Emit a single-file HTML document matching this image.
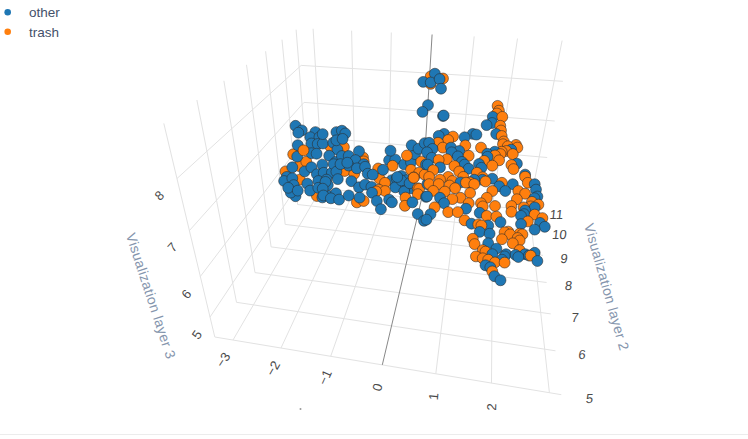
<!DOCTYPE html>
<html><head><meta charset="utf-8"><style>
html,body{margin:0;padding:0;background:#fff;}
body{width:748px;height:439px;overflow:hidden;position:relative;font-family:"Liberation Sans",sans-serif;}
svg{position:absolute;left:0;top:0;}
svg text{font-family:"Liberation Sans",sans-serif;}
.leg{position:absolute;left:29px;font-size:13.5px;color:#44516a;line-height:16px;}
.bot{position:absolute;left:0;top:434px;width:748px;height:1px;background:#ececec;}
</style></head><body>
<svg width="748" height="439" viewBox="0 0 748 439">
<g fill="none"><line x1="233.0" y1="340.0" x2="322.8" y2="185.5" stroke="#e2e2e2" stroke-width="1"/>
<line x1="281.0" y1="348.0" x2="355.1" y2="188.8" stroke="#e2e2e2" stroke-width="1"/>
<line x1="330.7" y1="356.3" x2="388.3" y2="192.3" stroke="#e2e2e2" stroke-width="1"/>
<line x1="435.8" y1="373.8" x2="457.0" y2="199.5" stroke="#e2e2e2" stroke-width="1"/>
<line x1="491.5" y1="383.1" x2="492.7" y2="203.2" stroke="#e2e2e2" stroke-width="1"/>
<line x1="549.4" y1="392.7" x2="529.3" y2="207.0" stroke="#e2e2e2" stroke-width="1"/>
<line x1="214.8" y1="337.0" x2="561.3" y2="394.7" stroke="#e2e2e2" stroke-width="1"/>
<line x1="236.5" y1="302.3" x2="555.5" y2="350.8" stroke="#e2e2e2" stroke-width="1"/>
<line x1="255.0" y1="272.6" x2="550.7" y2="313.9" stroke="#e2e2e2" stroke-width="1"/>
<line x1="271.1" y1="246.9" x2="546.6" y2="282.5" stroke="#e2e2e2" stroke-width="1"/>
<line x1="285.2" y1="224.4" x2="543.0" y2="255.4" stroke="#e2e2e2" stroke-width="1"/>
<line x1="297.6" y1="204.5" x2="539.9" y2="231.8" stroke="#e2e2e2" stroke-width="1"/>
<line x1="308.6" y1="186.9" x2="537.2" y2="211.0" stroke="#e2e2e2" stroke-width="1"/>
<line x1="214.8" y1="337.0" x2="163.8" y2="123.4" stroke="#e2e2e2" stroke-width="1"/>
<line x1="236.5" y1="302.3" x2="196.9" y2="100.0" stroke="#e2e2e2" stroke-width="1"/>
<line x1="255.0" y1="272.6" x2="223.9" y2="80.8" stroke="#e2e2e2" stroke-width="1"/>
<line x1="271.1" y1="246.9" x2="246.5" y2="64.8" stroke="#e2e2e2" stroke-width="1"/>
<line x1="285.2" y1="224.4" x2="265.6" y2="51.3" stroke="#e2e2e2" stroke-width="1"/>
<line x1="297.6" y1="204.5" x2="282.0" y2="39.7" stroke="#e2e2e2" stroke-width="1"/>
<line x1="308.6" y1="186.9" x2="296.1" y2="29.7" stroke="#e2e2e2" stroke-width="1"/>
<line x1="210.0" y1="317.1" x2="309.1" y2="168.2" stroke="#e2e2e2" stroke-width="1"/>
<line x1="200.3" y1="276.5" x2="306.7" y2="136.6" stroke="#e2e2e2" stroke-width="1"/>
<line x1="189.4" y1="230.6" x2="304.0" y2="102.4" stroke="#e2e2e2" stroke-width="1"/>
<line x1="176.9" y1="178.6" x2="301.2" y2="65.4" stroke="#e2e2e2" stroke-width="1"/>
<line x1="322.8" y1="185.5" x2="313.1" y2="28.8" stroke="#e2e2e2" stroke-width="1"/>
<line x1="355.1" y1="188.8" x2="351.6" y2="30.7" stroke="#e2e2e2" stroke-width="1"/>
<line x1="388.3" y1="192.3" x2="391.3" y2="32.5" stroke="#e2e2e2" stroke-width="1"/>
<line x1="457.0" y1="199.5" x2="474.2" y2="36.4" stroke="#e2e2e2" stroke-width="1"/>
<line x1="492.7" y1="203.2" x2="517.5" y2="38.5" stroke="#e2e2e2" stroke-width="1"/>
<line x1="529.3" y1="207.0" x2="562.1" y2="40.6" stroke="#e2e2e2" stroke-width="1"/>
<line x1="309.1" y1="168.2" x2="540.2" y2="191.0" stroke="#e2e2e2" stroke-width="1"/>
<line x1="306.7" y1="136.6" x2="547.2" y2="157.5" stroke="#e2e2e2" stroke-width="1"/>
<line x1="304.0" y1="102.4" x2="554.7" y2="121.0" stroke="#e2e2e2" stroke-width="1"/>
<line x1="301.2" y1="65.4" x2="562.9" y2="81.3" stroke="#e2e2e2" stroke-width="1"/>
<line x1="382.3" y1="364.9" x2="422.3" y2="195.8" stroke="#888" stroke-width="1"/>
<line x1="422.3" y1="195.8" x2="432.1" y2="34.5" stroke="#888" stroke-width="1"/></g>
<g><text transform="translate(223,359.9) rotate(-57) skewX(0)" font-size="13" fill="#4a4a4a" text-anchor="middle" dominant-baseline="central">−3</text>
<text transform="translate(273,368.3) rotate(-60) skewX(0)" font-size="13" fill="#4a4a4a" text-anchor="middle" dominant-baseline="central">−2</text>
<text transform="translate(325,377.4) rotate(-66) skewX(0)" font-size="13" fill="#4a4a4a" text-anchor="middle" dominant-baseline="central">−1</text>
<text transform="translate(377.5,387.4) rotate(-74) skewX(0)" font-size="13" fill="#4a4a4a" text-anchor="middle" dominant-baseline="central">0</text>
<text transform="translate(433.7,396.4) rotate(-85) skewX(0)" font-size="13" fill="#4a4a4a" text-anchor="middle" dominant-baseline="central">1</text>
<text transform="translate(491.7,407) rotate(-88) skewX(0)" font-size="13" fill="#4a4a4a" text-anchor="middle" dominant-baseline="central">2</text>
<text transform="translate(159.4,195.4) rotate(-43) skewX(0)" font-size="13" fill="#4a4a4a" text-anchor="middle" dominant-baseline="central">8</text>
<text transform="translate(172.3,247.4) rotate(-47) skewX(0)" font-size="13" fill="#4a4a4a" text-anchor="middle" dominant-baseline="central">7</text>
<text transform="translate(186.4,294) rotate(-50) skewX(0)" font-size="13" fill="#4a4a4a" text-anchor="middle" dominant-baseline="central">6</text>
<text transform="translate(197,334.7) rotate(-55) skewX(0)" font-size="13" fill="#4a4a4a" text-anchor="middle" dominant-baseline="central">5</text>
<text transform="translate(556.4,214.1) rotate(0) skewX(-6)" font-size="13" fill="#4a4a4a" text-anchor="middle" dominant-baseline="central">11</text>
<text transform="translate(559.4,234.7) rotate(0) skewX(-6)" font-size="13" fill="#4a4a4a" text-anchor="middle" dominant-baseline="central">10</text>
<text transform="translate(564,258.2) rotate(0) skewX(-6)" font-size="13" fill="#4a4a4a" text-anchor="middle" dominant-baseline="central">9</text>
<text transform="translate(568.5,285.6) rotate(0) skewX(-6)" font-size="13" fill="#4a4a4a" text-anchor="middle" dominant-baseline="central">8</text>
<text transform="translate(575,317.5) rotate(0) skewX(-6)" font-size="13" fill="#4a4a4a" text-anchor="middle" dominant-baseline="central">7</text>
<text transform="translate(582,354.5) rotate(0) skewX(-6)" font-size="13" fill="#4a4a4a" text-anchor="middle" dominant-baseline="central">6</text>
<text transform="translate(589.5,398.8) rotate(0) skewX(-6)" font-size="13" fill="#4a4a4a" text-anchor="middle" dominant-baseline="central">5</text>
<text letter-spacing="0.35" transform="translate(151,296) rotate(71.8) skewX(0)" font-size="14" fill="#8595ad" text-anchor="middle" dominant-baseline="central">Visualization layer 3</text>
<text letter-spacing="0.35" transform="translate(606.8,287) rotate(74.2) skewX(0)" font-size="14" fill="#8595ad" text-anchor="middle" dominant-baseline="central">Visualization layer 2</text></g>
<g stroke="#2b2b2b" stroke-width="0.8" stroke-opacity="0.7"><circle cx="430.7" cy="76.4" r="5.45" fill="#ff7f0e"/>
<circle cx="443.0" cy="78.5" r="5.45" fill="#ff7f0e"/>
<circle cx="430.7" cy="83.9" r="5.45" fill="#ff7f0e"/>
<circle cx="423.2" cy="81.9" r="5.45" fill="#1f77b4"/>
<circle cx="434.9" cy="73.7" r="5.45" fill="#1f77b4"/>
<circle cx="430.7" cy="82.5" r="5.45" fill="#1f77b4"/>
<circle cx="439.6" cy="79.1" r="5.45" fill="#1f77b4"/>
<circle cx="441.0" cy="88.7" r="5.45" fill="#1f77b4"/>
<circle cx="428.0" cy="105.1" r="5.45" fill="#1f77b4"/>
<circle cx="422.5" cy="111.9" r="5.45" fill="#1f77b4"/>
<circle cx="443.0" cy="116.0" r="5.45" fill="#1f77b4"/>
<circle cx="443.7" cy="115.5" r="5.45" fill="#1f77b4"/>
<circle cx="293.2" cy="154.3" r="5.45" fill="#ff7f0e"/>
<circle cx="299.1" cy="166.0" r="5.45" fill="#ff7f0e"/>
<circle cx="285.5" cy="171.4" r="5.45" fill="#ff7f0e"/>
<circle cx="299.8" cy="179.6" r="5.45" fill="#ff7f0e"/>
<circle cx="306.3" cy="161.7" r="5.45" fill="#ff7f0e"/>
<circle cx="330.6" cy="146.8" r="5.45" fill="#ff7f0e"/>
<circle cx="343.9" cy="147.1" r="5.45" fill="#ff7f0e"/>
<circle cx="363.0" cy="157.4" r="5.45" fill="#ff7f0e"/>
<circle cx="344.6" cy="171.0" r="5.45" fill="#ff7f0e"/>
<circle cx="354.2" cy="173.8" r="5.45" fill="#ff7f0e"/>
<circle cx="363.7" cy="161.4" r="5.45" fill="#ff7f0e"/>
<circle cx="356.9" cy="202.4" r="5.45" fill="#ff7f0e"/>
<circle cx="363.7" cy="201.0" r="5.45" fill="#ff7f0e"/>
<circle cx="316.9" cy="196.0" r="5.45" fill="#ff7f0e"/>
<circle cx="295.5" cy="196.2" r="5.45" fill="#1f77b4"/>
<circle cx="290.8" cy="192.6" r="5.45" fill="#1f77b4"/>
<circle cx="295.5" cy="125.8" r="5.45" fill="#1f77b4"/>
<circle cx="301.8" cy="130.4" r="5.45" fill="#1f77b4"/>
<circle cx="298.3" cy="132.7" r="5.45" fill="#1f77b4"/>
<circle cx="315.4" cy="132.1" r="5.45" fill="#1f77b4"/>
<circle cx="310.3" cy="137.2" r="5.45" fill="#1f77b4"/>
<circle cx="319.4" cy="137.2" r="5.45" fill="#1f77b4"/>
<circle cx="311.4" cy="143.5" r="5.45" fill="#1f77b4"/>
<circle cx="317.7" cy="144.0" r="5.45" fill="#1f77b4"/>
<circle cx="322.8" cy="143.5" r="5.45" fill="#1f77b4"/>
<circle cx="297.8" cy="145.2" r="5.45" fill="#1f77b4"/>
<circle cx="311.4" cy="153.2" r="5.45" fill="#1f77b4"/>
<circle cx="316.6" cy="153.7" r="5.45" fill="#1f77b4"/>
<circle cx="297.2" cy="156.6" r="5.45" fill="#1f77b4"/>
<circle cx="333.3" cy="142.7" r="5.45" fill="#1f77b4"/>
<circle cx="337.4" cy="149.6" r="5.45" fill="#1f77b4"/>
<circle cx="329.2" cy="155.7" r="5.45" fill="#1f77b4"/>
<circle cx="336.0" cy="161.9" r="5.45" fill="#1f77b4"/>
<circle cx="292.3" cy="167.3" r="5.45" fill="#1f77b4"/>
<circle cx="286.8" cy="176.9" r="5.45" fill="#1f77b4"/>
<circle cx="284.1" cy="181.0" r="5.45" fill="#1f77b4"/>
<circle cx="292.3" cy="178.3" r="5.45" fill="#1f77b4"/>
<circle cx="304.6" cy="171.4" r="5.45" fill="#1f77b4"/>
<circle cx="311.4" cy="167.3" r="5.45" fill="#1f77b4"/>
<circle cx="322.4" cy="164.6" r="5.45" fill="#1f77b4"/>
<circle cx="316.9" cy="174.2" r="5.45" fill="#1f77b4"/>
<circle cx="323.7" cy="172.8" r="5.45" fill="#1f77b4"/>
<circle cx="331.9" cy="172.8" r="5.45" fill="#1f77b4"/>
<circle cx="293.7" cy="185.1" r="5.45" fill="#1f77b4"/>
<circle cx="288.2" cy="187.8" r="5.45" fill="#1f77b4"/>
<circle cx="297.8" cy="190.6" r="5.45" fill="#1f77b4"/>
<circle cx="307.3" cy="183.7" r="5.45" fill="#1f77b4"/>
<circle cx="310.1" cy="190.6" r="5.45" fill="#1f77b4"/>
<circle cx="318.3" cy="181.0" r="5.45" fill="#1f77b4"/>
<circle cx="318.3" cy="187.8" r="5.45" fill="#1f77b4"/>
<circle cx="326.5" cy="179.6" r="5.45" fill="#1f77b4"/>
<circle cx="327.8" cy="185.1" r="5.45" fill="#1f77b4"/>
<circle cx="322.4" cy="197.4" r="5.45" fill="#1f77b4"/>
<circle cx="329.2" cy="196.0" r="5.45" fill="#1f77b4"/>
<circle cx="336.0" cy="193.3" r="5.45" fill="#1f77b4"/>
<circle cx="322.7" cy="134.1" r="5.45" fill="#1f77b4"/>
<circle cx="336.4" cy="132.1" r="5.45" fill="#1f77b4"/>
<circle cx="341.9" cy="130.7" r="5.45" fill="#1f77b4"/>
<circle cx="345.3" cy="133.5" r="5.45" fill="#1f77b4"/>
<circle cx="336.4" cy="140.3" r="5.45" fill="#1f77b4"/>
<circle cx="342.6" cy="138.9" r="5.45" fill="#1f77b4"/>
<circle cx="341.9" cy="156.0" r="5.45" fill="#1f77b4"/>
<circle cx="348.7" cy="156.0" r="5.45" fill="#1f77b4"/>
<circle cx="359.0" cy="151.2" r="5.45" fill="#1f77b4"/>
<circle cx="355.5" cy="160.1" r="5.45" fill="#1f77b4"/>
<circle cx="363.7" cy="164.2" r="5.45" fill="#1f77b4"/>
<circle cx="333.7" cy="164.2" r="5.45" fill="#1f77b4"/>
<circle cx="348.7" cy="165.6" r="5.45" fill="#1f77b4"/>
<circle cx="356.9" cy="168.3" r="5.45" fill="#1f77b4"/>
<circle cx="336.4" cy="171.7" r="5.45" fill="#1f77b4"/>
<circle cx="340.5" cy="164.1" r="5.45" fill="#1f77b4"/>
<circle cx="347.3" cy="162.7" r="5.45" fill="#1f77b4"/>
<circle cx="365.1" cy="166.8" r="5.45" fill="#1f77b4"/>
<circle cx="367.8" cy="173.7" r="5.45" fill="#1f77b4"/>
<circle cx="337.8" cy="179.1" r="5.45" fill="#1f77b4"/>
<circle cx="325.5" cy="181.9" r="5.45" fill="#1f77b4"/>
<circle cx="351.4" cy="181.2" r="5.45" fill="#1f77b4"/>
<circle cx="322.7" cy="188.7" r="5.45" fill="#1f77b4"/>
<circle cx="323.4" cy="195.5" r="5.45" fill="#1f77b4"/>
<circle cx="330.9" cy="198.3" r="5.45" fill="#1f77b4"/>
<circle cx="339.1" cy="199.6" r="5.45" fill="#1f77b4"/>
<circle cx="348.7" cy="195.5" r="5.45" fill="#1f77b4"/>
<circle cx="359.0" cy="187.3" r="5.45" fill="#1f77b4"/>
<circle cx="365.1" cy="184.6" r="5.45" fill="#1f77b4"/>
<circle cx="359.6" cy="197.6" r="5.45" fill="#1f77b4"/>
<circle cx="303.5" cy="150.3" r="5.45" fill="#ff7f0e"/>
<circle cx="497.6" cy="105.9" r="5.45" fill="#ff7f0e"/>
<circle cx="389.1" cy="160.3" r="5.45" fill="#1f77b4"/>
<circle cx="395.3" cy="159.6" r="5.45" fill="#1f77b4"/>
<circle cx="404.2" cy="164.4" r="5.45" fill="#1f77b4"/>
<circle cx="411.0" cy="162.3" r="5.45" fill="#1f77b4"/>
<circle cx="415.1" cy="154.1" r="5.45" fill="#1f77b4"/>
<circle cx="401.4" cy="176.0" r="5.45" fill="#1f77b4"/>
<circle cx="406.9" cy="180.1" r="5.45" fill="#1f77b4"/>
<circle cx="411.0" cy="188.3" r="5.45" fill="#1f77b4"/>
<circle cx="404.2" cy="189.7" r="5.45" fill="#1f77b4"/>
<circle cx="391.9" cy="180.1" r="5.45" fill="#1f77b4"/>
<circle cx="396.7" cy="178.7" r="5.45" fill="#1f77b4"/>
<circle cx="397.3" cy="186.3" r="5.45" fill="#1f77b4"/>
<circle cx="371.4" cy="186.9" r="5.45" fill="#1f77b4"/>
<circle cx="395.3" cy="187.3" r="5.45" fill="#1f77b4"/>
<circle cx="401.4" cy="180.5" r="5.45" fill="#1f77b4"/>
<circle cx="397.3" cy="177.0" r="5.45" fill="#1f77b4"/>
<circle cx="404.2" cy="191.4" r="5.45" fill="#1f77b4"/>
<circle cx="409.6" cy="183.2" r="5.45" fill="#1f77b4"/>
<circle cx="392.6" cy="165.8" r="5.45" fill="#ff7f0e"/>
<circle cx="378.2" cy="168.5" r="5.45" fill="#ff7f0e"/>
<circle cx="379.6" cy="178.7" r="5.45" fill="#ff7f0e"/>
<circle cx="385.0" cy="182.8" r="5.45" fill="#ff7f0e"/>
<circle cx="378.9" cy="189.7" r="5.45" fill="#ff7f0e"/>
<circle cx="385.0" cy="191.0" r="5.45" fill="#ff7f0e"/>
<circle cx="406.9" cy="155.5" r="5.45" fill="#ff7f0e"/>
<circle cx="411.0" cy="169.8" r="5.45" fill="#ff7f0e"/>
<circle cx="421.3" cy="161.6" r="5.45" fill="#ff7f0e"/>
<circle cx="419.2" cy="172.6" r="5.45" fill="#ff7f0e"/>
<circle cx="413.7" cy="177.4" r="5.45" fill="#ff7f0e"/>
<circle cx="424.7" cy="174.6" r="5.45" fill="#ff7f0e"/>
<circle cx="417.8" cy="188.3" r="5.45" fill="#ff7f0e"/>
<circle cx="376.1" cy="191.4" r="5.45" fill="#ff7f0e"/>
<circle cx="405.5" cy="197.6" r="5.45" fill="#ff7f0e"/>
<circle cx="404.9" cy="205.8" r="5.45" fill="#ff7f0e"/>
<circle cx="413.7" cy="177.7" r="5.45" fill="#ff7f0e"/>
<circle cx="419.2" cy="188.7" r="5.45" fill="#ff7f0e"/>
<circle cx="417.8" cy="194.1" r="5.45" fill="#ff7f0e"/>
<circle cx="372.7" cy="174.6" r="5.45" fill="#1f77b4"/>
<circle cx="390.5" cy="150.7" r="5.45" fill="#1f77b4"/>
<circle cx="383.0" cy="169.8" r="5.45" fill="#1f77b4"/>
<circle cx="411.7" cy="145.3" r="5.45" fill="#1f77b4"/>
<circle cx="418.5" cy="148.7" r="5.45" fill="#1f77b4"/>
<circle cx="424.7" cy="143.2" r="5.45" fill="#1f77b4"/>
<circle cx="426.0" cy="164.4" r="5.45" fill="#1f77b4"/>
<circle cx="427.4" cy="184.2" r="5.45" fill="#1f77b4"/>
<circle cx="372.0" cy="192.8" r="5.45" fill="#1f77b4"/>
<circle cx="376.8" cy="201.0" r="5.45" fill="#1f77b4"/>
<circle cx="380.9" cy="209.2" r="5.45" fill="#1f77b4"/>
<circle cx="389.1" cy="199.6" r="5.45" fill="#1f77b4"/>
<circle cx="391.9" cy="202.3" r="5.45" fill="#1f77b4"/>
<circle cx="412.4" cy="202.3" r="5.45" fill="#1f77b4"/>
<circle cx="426.0" cy="196.9" r="5.45" fill="#1f77b4"/>
<circle cx="417.8" cy="214.0" r="5.45" fill="#1f77b4"/>
<circle cx="424.0" cy="220.8" r="5.45" fill="#1f77b4"/>
<circle cx="498.9" cy="110.7" r="5.45" fill="#ff7f0e"/>
<circle cx="496.9" cy="113.5" r="5.45" fill="#ff7f0e"/>
<circle cx="492.8" cy="116.9" r="5.45" fill="#1f77b4"/>
<circle cx="502.3" cy="116.9" r="5.45" fill="#ff7f0e"/>
<circle cx="492.1" cy="123.0" r="5.45" fill="#1f77b4"/>
<circle cx="486.6" cy="125.1" r="5.45" fill="#1f77b4"/>
<circle cx="500.3" cy="125.8" r="5.45" fill="#ff7f0e"/>
<circle cx="501.0" cy="130.5" r="5.45" fill="#ff7f0e"/>
<circle cx="444.1" cy="133.9" r="5.45" fill="#1f77b4"/>
<circle cx="472.8" cy="133.9" r="5.45" fill="#1f77b4"/>
<circle cx="496.2" cy="134.0" r="5.45" fill="#1f77b4"/>
<circle cx="476.4" cy="134.6" r="5.45" fill="#1f77b4"/>
<circle cx="438.7" cy="135.9" r="5.45" fill="#1f77b4"/>
<circle cx="501.7" cy="136.0" r="5.45" fill="#ff7f0e"/>
<circle cx="453.0" cy="136.6" r="5.45" fill="#ff7f0e"/>
<circle cx="464.6" cy="137.3" r="5.45" fill="#1f77b4"/>
<circle cx="448.2" cy="140.0" r="5.45" fill="#ff7f0e"/>
<circle cx="503.7" cy="141.5" r="5.45" fill="#ff7f0e"/>
<circle cx="438.0" cy="142.8" r="5.45" fill="#ff7f0e"/>
<circle cx="429.1" cy="142.8" r="5.45" fill="#1f77b4"/>
<circle cx="503.0" cy="144.2" r="5.45" fill="#ff7f0e"/>
<circle cx="516.0" cy="144.9" r="5.45" fill="#ff7f0e"/>
<circle cx="465.3" cy="145.5" r="5.45" fill="#ff7f0e"/>
<circle cx="507.8" cy="146.3" r="5.45" fill="#ff7f0e"/>
<circle cx="442.8" cy="147.6" r="5.45" fill="#ff7f0e"/>
<circle cx="451.0" cy="147.6" r="5.45" fill="#1f77b4"/>
<circle cx="481.0" cy="147.6" r="5.45" fill="#ff7f0e"/>
<circle cx="517.4" cy="147.6" r="5.45" fill="#ff7f0e"/>
<circle cx="432.5" cy="148.9" r="5.45" fill="#1f77b4"/>
<circle cx="511.2" cy="149.7" r="5.45" fill="#1f77b4"/>
<circle cx="459.2" cy="151.0" r="5.45" fill="#1f77b4"/>
<circle cx="506.4" cy="151.0" r="5.45" fill="#ff7f0e"/>
<circle cx="501.7" cy="151.7" r="5.45" fill="#ff7f0e"/>
<circle cx="494.8" cy="151.7" r="5.45" fill="#1f77b4"/>
<circle cx="427.0" cy="152.3" r="5.45" fill="#1f77b4"/>
<circle cx="451.6" cy="152.3" r="5.45" fill="#1f77b4"/>
<circle cx="487.3" cy="153.8" r="5.45" fill="#1f77b4"/>
<circle cx="500.5" cy="154.1" r="5.45" fill="#ff7f0e"/>
<circle cx="512.8" cy="154.1" r="5.45" fill="#ff7f0e"/>
<circle cx="495.0" cy="155.5" r="5.45" fill="#ff7f0e"/>
<circle cx="468.7" cy="155.8" r="5.45" fill="#ff7f0e"/>
<circle cx="457.8" cy="156.4" r="5.45" fill="#1f77b4"/>
<circle cx="487.5" cy="156.8" r="5.45" fill="#1f77b4"/>
<circle cx="431.8" cy="157.8" r="5.45" fill="#1f77b4"/>
<circle cx="446.9" cy="159.2" r="5.45" fill="#ff7f0e"/>
<circle cx="438.7" cy="159.9" r="5.45" fill="#ff7f0e"/>
<circle cx="499.1" cy="160.3" r="5.45" fill="#ff7f0e"/>
<circle cx="484.1" cy="160.9" r="5.45" fill="#ff7f0e"/>
<circle cx="461.9" cy="161.9" r="5.45" fill="#1f77b4"/>
<circle cx="516.9" cy="163.7" r="5.45" fill="#1f77b4"/>
<circle cx="479.0" cy="164.0" r="5.45" fill="#1f77b4"/>
<circle cx="427.7" cy="164.6" r="5.45" fill="#1f77b4"/>
<circle cx="464.6" cy="164.6" r="5.45" fill="#1f77b4"/>
<circle cx="511.4" cy="165.0" r="5.45" fill="#ff7f0e"/>
<circle cx="492.3" cy="165.7" r="5.45" fill="#ff7f0e"/>
<circle cx="454.4" cy="166.0" r="5.45" fill="#ff7f0e"/>
<circle cx="440.0" cy="167.4" r="5.45" fill="#1f77b4"/>
<circle cx="481.4" cy="167.8" r="5.45" fill="#1f77b4"/>
<circle cx="468.7" cy="168.7" r="5.45" fill="#1f77b4"/>
<circle cx="513.5" cy="169.1" r="5.45" fill="#ff7f0e"/>
<circle cx="433.2" cy="170.1" r="5.45" fill="#ff7f0e"/>
<circle cx="459.2" cy="171.5" r="5.45" fill="#ff7f0e"/>
<circle cx="476.9" cy="172.8" r="5.45" fill="#ff7f0e"/>
<circle cx="525.1" cy="174.6" r="5.45" fill="#1f77b4"/>
<circle cx="525.1" cy="176.7" r="5.45" fill="#ff7f0e"/>
<circle cx="429.1" cy="176.9" r="5.45" fill="#ff7f0e"/>
<circle cx="448.2" cy="176.9" r="5.45" fill="#ff7f0e"/>
<circle cx="463.3" cy="176.9" r="5.45" fill="#ff7f0e"/>
<circle cx="482.7" cy="177.3" r="5.45" fill="#ff7f0e"/>
<circle cx="492.3" cy="178.7" r="5.45" fill="#1f77b4"/>
<circle cx="440.0" cy="179.7" r="5.45" fill="#ff7f0e"/>
<circle cx="482.4" cy="179.7" r="5.45" fill="#1f77b4"/>
<circle cx="474.2" cy="179.7" r="5.45" fill="#1f77b4"/>
<circle cx="452.3" cy="181.0" r="5.45" fill="#ff7f0e"/>
<circle cx="485.5" cy="181.4" r="5.45" fill="#ff7f0e"/>
<circle cx="460.5" cy="182.4" r="5.45" fill="#1f77b4"/>
<circle cx="470.1" cy="182.4" r="5.45" fill="#ff7f0e"/>
<circle cx="466.0" cy="182.7" r="5.45" fill="#ff7f0e"/>
<circle cx="527.8" cy="182.8" r="5.45" fill="#ff7f0e"/>
<circle cx="501.9" cy="182.8" r="5.45" fill="#ff7f0e"/>
<circle cx="429.1" cy="184.1" r="5.45" fill="#ff7f0e"/>
<circle cx="438.7" cy="184.1" r="5.45" fill="#ff7f0e"/>
<circle cx="474.2" cy="184.1" r="5.45" fill="#ff7f0e"/>
<circle cx="534.7" cy="184.2" r="5.45" fill="#1f77b4"/>
<circle cx="512.8" cy="184.2" r="5.45" fill="#1f77b4"/>
<circle cx="449.6" cy="185.5" r="5.45" fill="#ff7f0e"/>
<circle cx="499.1" cy="186.2" r="5.45" fill="#1f77b4"/>
<circle cx="455.1" cy="188.2" r="5.45" fill="#ff7f0e"/>
<circle cx="536.0" cy="189.6" r="5.45" fill="#1f77b4"/>
<circle cx="433.2" cy="190.9" r="5.45" fill="#ff7f0e"/>
<circle cx="505.3" cy="191.0" r="5.45" fill="#1f77b4"/>
<circle cx="492.3" cy="191.0" r="5.45" fill="#ff7f0e"/>
<circle cx="518.3" cy="191.0" r="5.45" fill="#ff7f0e"/>
<circle cx="444.8" cy="191.6" r="5.45" fill="#ff7f0e"/>
<circle cx="470.1" cy="193.0" r="5.45" fill="#ff7f0e"/>
<circle cx="525.1" cy="193.7" r="5.45" fill="#ff7f0e"/>
<circle cx="427.0" cy="196.4" r="5.45" fill="#1f77b4"/>
<circle cx="537.4" cy="196.5" r="5.45" fill="#1f77b4"/>
<circle cx="440.0" cy="197.8" r="5.45" fill="#1f77b4"/>
<circle cx="460.5" cy="197.8" r="5.45" fill="#ff7f0e"/>
<circle cx="486.8" cy="197.8" r="5.45" fill="#ff7f0e"/>
<circle cx="534.5" cy="198.2" r="5.45" fill="#1f77b4"/>
<circle cx="452.3" cy="199.1" r="5.45" fill="#ff7f0e"/>
<circle cx="516.9" cy="199.2" r="5.45" fill="#ff7f0e"/>
<circle cx="531.9" cy="201.9" r="5.45" fill="#ff7f0e"/>
<circle cx="444.1" cy="203.2" r="5.45" fill="#1f77b4"/>
<circle cx="468.7" cy="203.2" r="5.45" fill="#ff7f0e"/>
<circle cx="481.0" cy="203.2" r="5.45" fill="#ff7f0e"/>
<circle cx="538.4" cy="204.6" r="5.45" fill="#ff7f0e"/>
<circle cx="495.0" cy="206.0" r="5.45" fill="#ff7f0e"/>
<circle cx="511.4" cy="206.0" r="5.45" fill="#ff7f0e"/>
<circle cx="482.7" cy="206.4" r="5.45" fill="#ff7f0e"/>
<circle cx="530.6" cy="206.4" r="5.45" fill="#ff7f0e"/>
<circle cx="434.6" cy="207.3" r="5.45" fill="#ff7f0e"/>
<circle cx="534.7" cy="207.4" r="5.45" fill="#1f77b4"/>
<circle cx="523.7" cy="207.4" r="5.45" fill="#ff7f0e"/>
<circle cx="466.0" cy="208.7" r="5.45" fill="#1f77b4"/>
<circle cx="525.1" cy="210.5" r="5.45" fill="#1f77b4"/>
<circle cx="511.4" cy="211.8" r="5.45" fill="#ff7f0e"/>
<circle cx="448.2" cy="212.1" r="5.45" fill="#ff7f0e"/>
<circle cx="457.8" cy="212.1" r="5.45" fill="#ff7f0e"/>
<circle cx="479.7" cy="212.8" r="5.45" fill="#1f77b4"/>
<circle cx="524.1" cy="214.1" r="5.45" fill="#1f77b4"/>
<circle cx="430.5" cy="214.2" r="5.45" fill="#1f77b4"/>
<circle cx="534.7" cy="214.6" r="5.45" fill="#ff7f0e"/>
<circle cx="486.8" cy="215.9" r="5.45" fill="#ff7f0e"/>
<circle cx="521.0" cy="215.9" r="5.45" fill="#1f77b4"/>
<circle cx="496.4" cy="216.6" r="5.45" fill="#ff7f0e"/>
<circle cx="542.4" cy="218.1" r="5.45" fill="#ff7f0e"/>
<circle cx="426.4" cy="219.6" r="5.45" fill="#1f77b4"/>
<circle cx="464.6" cy="220.3" r="5.45" fill="#ff7f0e"/>
<circle cx="527.8" cy="221.4" r="5.45" fill="#ff7f0e"/>
<circle cx="500.5" cy="222.1" r="5.45" fill="#1f77b4"/>
<circle cx="540.0" cy="222.9" r="5.45" fill="#1f77b4"/>
<circle cx="471.5" cy="223.7" r="5.45" fill="#1f77b4"/>
<circle cx="521.0" cy="224.1" r="5.45" fill="#1f77b4"/>
<circle cx="478.3" cy="224.4" r="5.45" fill="#ff7f0e"/>
<circle cx="488.2" cy="225.5" r="5.45" fill="#1f77b4"/>
<circle cx="481.4" cy="225.5" r="5.45" fill="#ff7f0e"/>
<circle cx="544.8" cy="226.8" r="5.45" fill="#1f77b4"/>
<circle cx="534.7" cy="229.6" r="5.45" fill="#1f77b4"/>
<circle cx="508.2" cy="231.6" r="5.45" fill="#ff7f0e"/>
<circle cx="479.7" cy="231.9" r="5.45" fill="#1f77b4"/>
<circle cx="504.6" cy="232.3" r="5.45" fill="#ff7f0e"/>
<circle cx="489.6" cy="233.7" r="5.45" fill="#1f77b4"/>
<circle cx="519.6" cy="233.7" r="5.45" fill="#ff7f0e"/>
<circle cx="510.1" cy="234.4" r="5.45" fill="#ff7f0e"/>
<circle cx="522.4" cy="234.4" r="5.45" fill="#ff7f0e"/>
<circle cx="517.7" cy="238.0" r="5.45" fill="#ff7f0e"/>
<circle cx="472.8" cy="238.8" r="5.45" fill="#ff7f0e"/>
<circle cx="501.9" cy="239.2" r="5.45" fill="#ff7f0e"/>
<circle cx="519.6" cy="240.5" r="5.45" fill="#ff7f0e"/>
<circle cx="512.8" cy="243.3" r="5.45" fill="#ff7f0e"/>
<circle cx="488.2" cy="243.3" r="5.45" fill="#1f77b4"/>
<circle cx="474.6" cy="244.1" r="5.45" fill="#ff7f0e"/>
<circle cx="496.4" cy="248.7" r="5.45" fill="#1f77b4"/>
<circle cx="519.6" cy="250.1" r="5.45" fill="#ff7f0e"/>
<circle cx="482.7" cy="250.1" r="5.45" fill="#ff7f0e"/>
<circle cx="485.5" cy="251.6" r="5.45" fill="#ff7f0e"/>
<circle cx="534.7" cy="252.8" r="5.45" fill="#1f77b4"/>
<circle cx="525.1" cy="254.2" r="5.45" fill="#1f77b4"/>
<circle cx="506.0" cy="254.2" r="5.45" fill="#1f77b4"/>
<circle cx="492.3" cy="254.2" r="5.45" fill="#1f77b4"/>
<circle cx="515.6" cy="255.0" r="5.45" fill="#1f77b4"/>
<circle cx="528.9" cy="255.5" r="5.45" fill="#1f77b4"/>
<circle cx="530.6" cy="255.6" r="5.45" fill="#ff7f0e"/>
<circle cx="475.9" cy="256.4" r="5.45" fill="#ff7f0e"/>
<circle cx="504.6" cy="256.4" r="5.45" fill="#1f77b4"/>
<circle cx="518.3" cy="257.0" r="5.45" fill="#1f77b4"/>
<circle cx="482.7" cy="258.3" r="5.45" fill="#ff7f0e"/>
<circle cx="501.9" cy="259.7" r="5.45" fill="#1f77b4"/>
<circle cx="488.2" cy="259.7" r="5.45" fill="#ff7f0e"/>
<circle cx="537.4" cy="261.0" r="5.45" fill="#1f77b4"/>
<circle cx="495.0" cy="262.4" r="5.45" fill="#ff7f0e"/>
<circle cx="504.6" cy="262.6" r="5.45" fill="#ff7f0e"/>
<circle cx="485.5" cy="265.3" r="5.45" fill="#1f77b4"/>
<circle cx="490.3" cy="267.3" r="5.45" fill="#1f77b4"/>
<circle cx="492.3" cy="271.4" r="5.45" fill="#ff7f0e"/>
<circle cx="494.4" cy="276.2" r="5.45" fill="#1f77b4"/>
<circle cx="500.5" cy="280.3" r="5.45" fill="#1f77b4"/></g>
<circle cx="300.5" cy="409" r="1" fill="#999"/>
<circle cx="7.7" cy="12.3" r="3.3" fill="#1f77b4"/>
<circle cx="7.7" cy="31.8" r="3.3" fill="#ff7f0e"/>
</svg>
<div class="leg" style="top:5px">other</div>
<div class="leg" style="top:25px">trash</div>
<div class="bot"></div>
</body></html>
